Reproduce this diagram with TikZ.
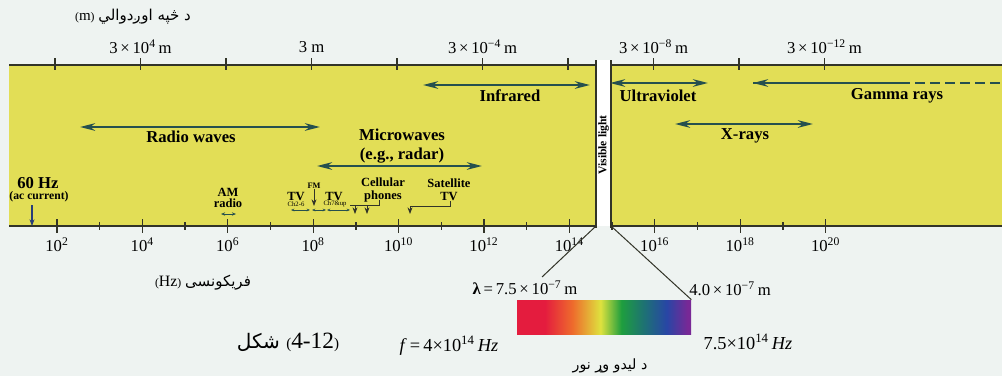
\documentclass[tikz,border=0pt]{standalone}
\usepackage{fontspec}
\setmainfont{Liberation Serif}
\newfontfamily\pashtofont[Script=Arabic]{DejaVu Sans}
\TeXXeTstate=1
\usetikzlibrary{arrows.meta,positioning}
\definecolor{pagebg}{RGB}{238,243,241}
\definecolor{bandyellow}{RGB}{226,222,86}
\definecolor{bandline}{RGB}{50,52,40}
\definecolor{rangeteal}{RGB}{38,80,78}
\definecolor{acblue}{RGB}{40,62,120}
\definecolor{specred}{RGB}{228,28,62}
\definecolor{specorange}{RGB}{238,108,44}
\definecolor{specyellow}{RGB}{222,226,62}
\definecolor{specgreen}{RGB}{30,158,62}
\definecolor{specteal}{RGB}{30,110,120}
\definecolor{specblue}{RGB}{40,70,165}
\definecolor{specviolet}{RGB}{120,40,150}
\pgfdeclarehorizontalshading{visspec}{100bp}{color(0bp)=(specred); color(25bp)=(specred);
  color(33bp)=(specred); color(41bp)=(specorange); color(49bp)=(specyellow);
  color(55bp)=(specgreen); color(62bp)=(specteal); color(68bp)=(specblue);
  color(74bp)=(specviolet); color(100bp)=(specviolet)}
\newcommand\smparen[2]{{\fontsize{#1}{#1}\selectfont(}#2{\fontsize{#1}{#1}\selectfont)}}

\begin{document}
\begin{tikzpicture}[x=0.6pt, y=-0.6pt, >={Stealth[length=4pt,width=3pt]},
  spanarrow/.style={<->, rangeteal, line width=1.6pt, >={Stealth[length=9pt,width=4.5pt]}},
  rangelab/.style={font=\fontsize{10}{11.5}\selectfont\bfseries, align=center},
  smalllab/.style={font=\fontsize{7.5}{8}\selectfont\bfseries, align=center, inner sep=0pt},
  tinylab/.style={font=\fontsize{4}{4.5}\selectfont, inner sep=0pt},
  wavelab/.style={font=\fontsize{10}{11}\selectfont},
  freqlab/.style={font=\fontsize{10}{11}\selectfont},
  pashto/.style={font=\pashtofont\fontsize{#1}{#1}\selectfont}]
  \def\dtop{85.5}
  \def\dbot{42.7}
  \useasboundingbox (0,0) rectangle (1002,376);
  \fill[pagebg] (0,0) rectangle (1002,376);
  % band
  \fill[bandyellow] (9,65) rectangle (1002,226);
  \draw[bandline, line width=1.2pt] (9,65) -- (596,65) (611,65) -- (1002,65);
  \draw[bandline, line width=1.2pt] (9,226) -- (596,226) (611,226) -- (1002,226);
  % wavelength scale
  \foreach \i in {0,...,9}
    \draw[bandline, line width=0.8pt] ({55+\dtop*\i},58) -- ++(0,12);
  \foreach \i/\lab in {1/{3\,×\,10\textsuperscript{4}\,m}, 3/{3 m},
      5/{3\,×\,10\textsuperscript{−4}\,m}, 7/{3\,×\,10\textsuperscript{−8}\,m},
      9/{3\,×\,10\textsuperscript{−12}\,m}}
    \node[wavelab] (wl\i) at ({55+\dtop*\i},47) {\lab};
  \node[pashto=8.2] (wavaxis) at (133,17) {\rmfamily\fontsize{9}{10}\selectfont\smparen{7}{m} \pashtofont\beginR د څپه اوږدوالي\endR};
  % frequency scale
  \foreach \i in {0,2,...,18}
    \draw[bandline, line width=0.8pt] ({57+\dbot*\i},219) -- ++(0,14);
  \foreach \i in {1,3,...,17}
    \draw[bandline, line width=0.8pt] ({57+\dbot*\i},222) -- ++(0,8);
  \foreach \e [count=\k from 0] in {2,4,...,20}
    \node[freqlab] (f\e) at ({57+85.4*\k},245) {10\textsuperscript{\e}};
  \node[pashto=9] (freqaxis) at (203,283) {\rmfamily\fontsize{9.5}{10}\selectfont\smparen{7}{Hz} \pashtofont\fontsize{9}{10}\selectfont\beginR فریکونسی\endR};
  % visible light strip
  \fill[white] (596,60) rectangle (611,226);
  \draw[bandline, line width=0.8pt] (596,60) -- (596,228) (611,60) -- (611,228);
  \node[rotate=90, font=\fontsize{7}{8}\selectfont\bfseries] (vislight) at (603.5,145) {Visible light};
  % ranges
  \draw[spanarrow] (80,127) -- (320,127);
  \node[rangelab] (radio) at (191,137) {Radio waves};
  \draw[spanarrow] (317,166) -- (482,166);
  \node[rangelab] (micro) at (402,146) {Microwaves\\(e.g., radar)};
  \draw[spanarrow] (423,85) -- (590,85);
  \node[rangelab] (ir) at (510,96) {Infrared};
  \draw[spanarrow] (610,83) -- (708,83);
  \node[rangelab] (uv) at (658,96) {Ultraviolet};
  \draw[spanarrow] (675,124) -- (813,124);
  \node[rangelab] (xray) at (745,136) {X-rays};
  \draw[spanarrow, -] (753,83) -- (900,83);
  \draw[rangeteal, line width=1.6pt, -{Stealth[length=9pt,width=4.5pt]}] (830,83) -- (753,83);
  \draw[rangeteal, line width=1.6pt, dash pattern=on 6pt off 3pt] (900,83) -- (1002,83);
  \node[rangelab] (gamma) at (897,96) {Gamma rays};
  % sources along the bottom
  \node[font=\fontsize{10}{11}\selectfont\bfseries, inner sep=0pt] (hz60) at (38,183) {60 Hz};
  \node[smalllab, font=\fontsize{7}{8}\selectfont\bfseries] (accur) at (39,197) {(ac current)};
  \coordinate (acend) at (32,226);
  \draw[acblue, line width=1.2pt, ->] (32,205) -- (acend);
  \node[smalllab] (am) at (228,198) {AM\\[-1pt]radio};
  \draw[rangeteal, <->, line width=0.6pt, >={Stealth[length=2.5pt,width=2pt]}] (221,214) -- (236,214);
  \node[smalllab] (tvlo) at (296,196) {TV};
  \node[tinylab] (chlo) at (296,204) {Ch2-6};
  \node[smalllab, font=\fontsize{5}{6}\selectfont\bfseries] (fm) at (314,186) {FM};
  \draw[bandline, line width=0.5pt, ->] (fm.south) -- (314,206);
  \node[smalllab] (tvhi) at (334,196) {TV};
  \node[tinylab] (chhi) at (335,204) {Ch7\&up};
  \foreach \a/\b in {291/310, 312/326, 327/350}
    \draw[rangeteal, <->, line width=0.5pt, >={Stealth[length=2pt,width=1.6pt]}] (\a,210) -- (\b,210);
  \node[smalllab] (cell) at (383,190) {Cellular\\phones};
  \draw[bandline, line width=0.5pt] (379,200) -- (379,205) -- (350,205);
  \draw[bandline, line width=0.5pt, ->] (355,205) -- (355,214);
  \draw[bandline, line width=0.5pt, ->] (367,205) -- (367,214);
  \node[smalllab] (sat) at (449,190) {Satellite\\TV};
  \draw[bandline, line width=0.5pt, ->] (450,201) -- (450,206) -- (410,206) -- (410,214);
  % visible spectrum
  \node[shade, shading=visspec, minimum width=104.4pt, minimum height=20.4pt, inner sep=0pt] (spec) at (604,317) {};
  \node[font=\fontsize{10}{11}\selectfont] (lamlo) at (525,288) {\textbf{λ}\,=\,7.5\,×\,10\textsuperscript{−7}\,m};
  \node[font=\fontsize{10}{11}\selectfont] (lamhi) at (730,289) {4.0\,×\,10\textsuperscript{−7}\,m};
  \coordinate (visbl) at (596,226);
  \coordinate (visbr) at (611,226);
  \coordinate (lamtop) at (542,277);
  \draw[bandline, line width=0.6pt] (visbl) -- (lamtop);
  \draw[bandline, line width=0.6pt] (visbr) -- (spec.north east);
  \node[font=\fontsize{11}{12}\selectfont] (flo) at (449,346) {\textit{f}\,=\,4×10\textsuperscript{14}\,\textit{Hz}};
  \node[font=\fontsize{11}{12}\selectfont] (fhi) at (748,342) {7.5×10\textsuperscript{14}\,\textit{Hz}};
  \node[pashto=8.5] (visname) at (610,366) {\beginR د ليدو وړ نور\endR};
  % figure number
  \node[pashto=12] (figlab) at (288,342) {\beginR شکل\endR\ \rmfamily\fontsize{14}{15}\selectfont\smparen{9}{4-12}};
\end{tikzpicture}
\end{document}
